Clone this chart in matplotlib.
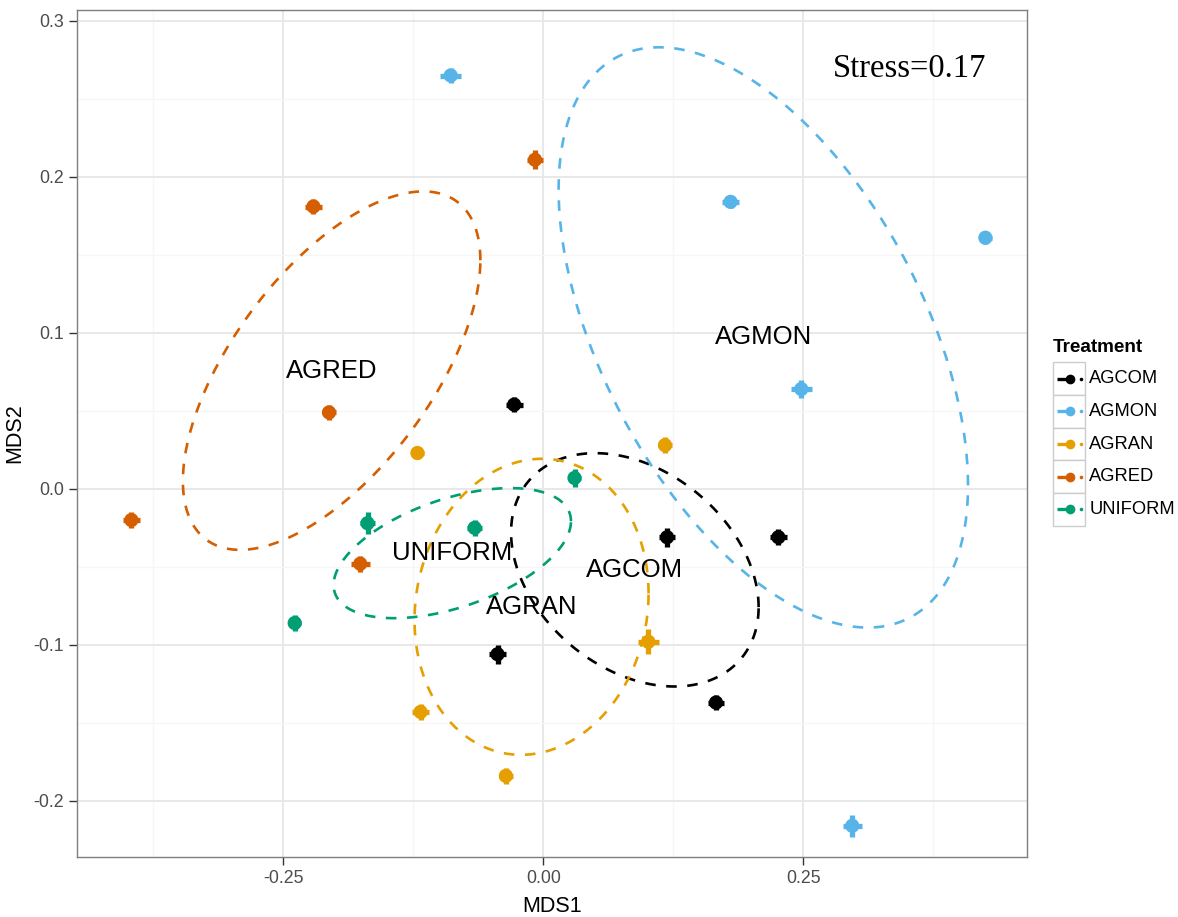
import numpy as np
import matplotlib
matplotlib.use("Agg")
import matplotlib.pyplot as plt
from matplotlib.patches import Rectangle

plt.rcParams['font.family'] = ['Liberation Sans', 'DejaVu Sans']
plt.rcParams['axes.unicode_minus'] = False

# ---- data -------------------------------------------------------------
treatments = ["AGCOM", "AGMON", "AGRAN", "AGRED", "UNIFORM"]
palette = ["#000000", "#56B4E9", "#E69F00", "#D55E00", "#009E73"]

# NMDS site scores (long format: one entry per plot)
group = (["AGCOM"] * 5 + ["AGMON"] * 5 + ["AGRAN"] * 5 +
         ["AGRED"] * 5 + ["UNIFORM"] * 4)
mds1 = [-0.028, 0.119, 0.226, -0.044, 0.166,
        -0.089, 0.180, 0.425, 0.248, 0.297,
        -0.121, 0.117, 0.101, -0.118, -0.036,
        -0.008, -0.221, -0.206, -0.396, -0.176,
        0.030, -0.066, -0.169, -0.239]
mds2 = [0.054, -0.031, -0.031, -0.106, -0.137,
        0.265, 0.184, 0.161, 0.064, -0.216,
        0.023, 0.028, -0.098, -0.143, -0.184,
        0.211, 0.181, 0.049, -0.020, -0.048,
        0.007, -0.025, -0.022, -0.086]
# standard errors of the scores
se1 = [0.008, 0.008, 0.008, 0.008, 0.008,
       0.010, 0.008, 0.006, 0.010, 0.009,
       0.006, 0.007, 0.010, 0.008, 0.007,
       0.008, 0.008, 0.007, 0.008, 0.009,
       0.006, 0.007, 0.007, 0.006]
se2 = [0.005, 0.006, 0.005, 0.006, 0.005,
       0.005, 0.004, 0.004, 0.006, 0.007,
       0.004, 0.005, 0.008, 0.005, 0.005,
       0.006, 0.005, 0.005, 0.005, 0.005,
       0.006, 0.005, 0.007, 0.005]

# dispersion ellipses per treatment: centre, x/y half-extent, correlation
ell_cx = [0.088, 0.2115, -0.0113, -0.2035, -0.0875]
ell_cy = [-0.0519, 0.0971, -0.0756, 0.0758, -0.0412]
ell_sx = [0.1190, 0.1968, 0.1125, 0.1430, 0.1141]
ell_sy = [0.0748, 0.1860, 0.0949, 0.1149, 0.0417]
ell_rho = [-0.32, -0.51, 0.09, 0.616, 0.49]

stress = 0.17

# ---- figure -------------------------------------------------------------
W, H = 1178, 917
fig = plt.figure(figsize=(W / 100, H / 100), dpi=100)
ax = fig.add_axes([77.3 / W, 1 - 857 / H, (1027 - 77.3) / W, (857 - 10) / H])
ax.set_xlim(-0.448, 0.465)
ax.set_ylim(-0.236, 0.307)

ax.set_xticks([-0.25, 0.0, 0.25])
ax.set_xticklabels(["-0.25", "0.00", "0.25"])
ax.set_yticks([-0.2, -0.1, 0.0, 0.1, 0.2, 0.3])
ax.set_yticklabels(["-0.2", "-0.1", "0.0", "0.1", "0.2", "0.3"])
ax.set_xticks([-0.375, -0.125, 0.125, 0.375], minor=True)
ax.set_yticks([-0.15, -0.05, 0.05, 0.15, 0.25], minor=True)
ax.grid(which="major", color="#E8E8E8", lw=1.4, zorder=0)
ax.grid(which="minor", color="#F6F6F6", lw=1.0, zorder=0)
ax.set_axisbelow(True)
ax.tick_params(which="major", length=5.5, width=1.0, color="#333333",
               labelsize=12.8, labelcolor="#4D4D4D", pad=4)
ax.tick_params(which="minor", length=0)
for s in ax.spines.values():
    s.set_color("#7F7F7F")
    s.set_linewidth(1.0)

ax.set_xlabel("MDS1", fontsize=15.5, labelpad=6)
ax.set_ylabel("MDS2", fontsize=15.5, labelpad=6)

group_arr = np.array(group)
x_arr, y_arr = np.array(mds1), np.array(mds2)
e1, e2 = np.array(se1), np.array(se2)
t = np.linspace(0, 2 * np.pi, 300)

for i, (name, col) in enumerate(zip(treatments, palette)):
    # dashed dispersion ellipse
    ex = ell_cx[i] + ell_sx[i] * np.cos(t)
    ey = ell_cy[i] + ell_sy[i] * (ell_rho[i] * np.cos(t) +
                                  np.sqrt(1 - ell_rho[i] ** 2) * np.sin(t))
    ax.plot(ex, ey, color=col, lw=1.9, ls=(0, (4, 4)), zorder=2)

    m = group_arr == name
    ax.errorbar(x_arr[m], y_arr[m], xerr=e1[m], yerr=e2[m], fmt="none",
                ecolor=col, elinewidth=3.8, capsize=0, zorder=3)
    ax.scatter(x_arr[m], y_arr[m], s=105, color=col, edgecolors="none",
               zorder=4)

    ax.text(ell_cx[i], ell_cy[i], name, fontsize=18.5, ha="center",
            va="center", color="black", zorder=5)

ax.text(0.2788, 0.2643, f"Stress={stress}", fontsize=23.5,
        family=["Liberation Serif", "DejaVu Serif"], ha="left",
        va="baseline", zorder=5)

# ---- legend (drawn in figure pixel space) ------------------------------
lg = fig.add_axes([0, 0, 1, 1], zorder=10)
lg.set_xlim(0, W)
lg.set_ylim(H, 0)
lg.axis("off")
lg.text(1053, 348, "Treatment", fontsize=13.6, fontweight="bold",
        ha="left", va="center")
row_top, row_h = 362.3, 32.7
for i, (name, col) in enumerate(zip(treatments, palette)):
    y0 = row_top + i * row_h
    yc = y0 + row_h / 2
    lg.add_patch(Rectangle((1053.3, y0), 31.7, row_h, facecolor="white",
                           edgecolor="#CCCCCC", lw=1.0))
    lg.plot([1057, 1070], [yc, yc], color=col, lw=2.4,
            solid_capstyle="butt")
    lg.plot([1070], [yc], marker="o", ms=7.0, color=col, mec="none")
    lg.plot([1080.7], [yc], marker="o", ms=2.6, color=col, mec="none")
    lg.text(1089.3, yc, name, fontsize=13.2, ha="left", va="center")

fig.savefig("out.png", dpi=100)
